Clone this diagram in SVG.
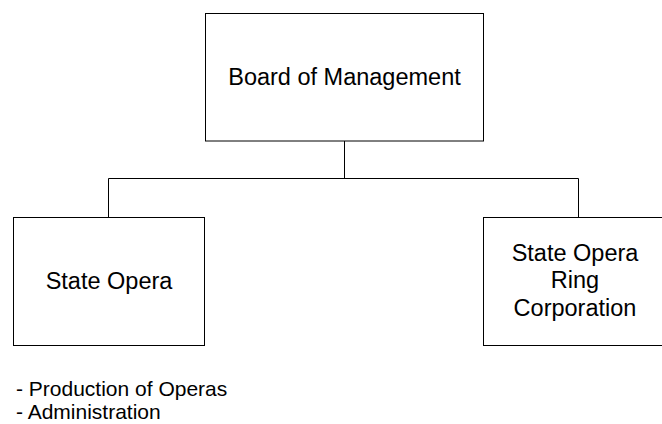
<svg xmlns="http://www.w3.org/2000/svg" width="662" height="424" viewBox="0 0 662 424">
  <style>
    .box { fill: #ffffff; stroke: #000000; stroke-width: 1; }
    .link { fill: none; stroke: #000000; stroke-width: 1; }
    .label { font-family: "Liberation Sans", Arial, sans-serif; font-size: 23.5px; fill: #000000; text-anchor: middle; }
    .note { font-family: "Liberation Sans", Arial, sans-serif; font-size: 21px; fill: #000000; }
  </style>
  <rect width="662" height="424" fill="#ffffff"/>

  <!-- connectors -->
  <g id="connectors">
    <path class="link" d="M344.5 141 V178.5"/>
    <path class="link" d="M108.5 178.5 H578.5"/>
    <path class="link" d="M108.5 178.5 V217.5"/>
    <path class="link" d="M578.5 178.5 V217.5"/>
  </g>

  <!-- nodes -->
  <g id="board">
    <rect class="box" x="205.5" y="13.5" width="278" height="127.5"/>
    <text class="label" x="344.5" y="85">Board of Management</text>
  </g>

  <g id="state-opera">
    <rect class="box" x="13.5" y="217.5" width="191" height="128"/>
    <text class="label" x="109" y="289">State Opera</text>
  </g>

  <g id="ring-corporation">
    <rect class="box" x="483.5" y="217.5" width="190" height="128"/>
    <text class="label" x="575" y="261">State Opera</text>
    <text class="label" x="575" y="288">Ring</text>
    <text class="label" x="575" y="316">Corporation</text>
  </g>

  <!-- duties of the State Opera -->
  <g id="notes">
    <text class="note" x="16" y="396">- Production of Operas</text>
    <text class="note" x="16" y="419">- Administration</text>
  </g>
</svg>
